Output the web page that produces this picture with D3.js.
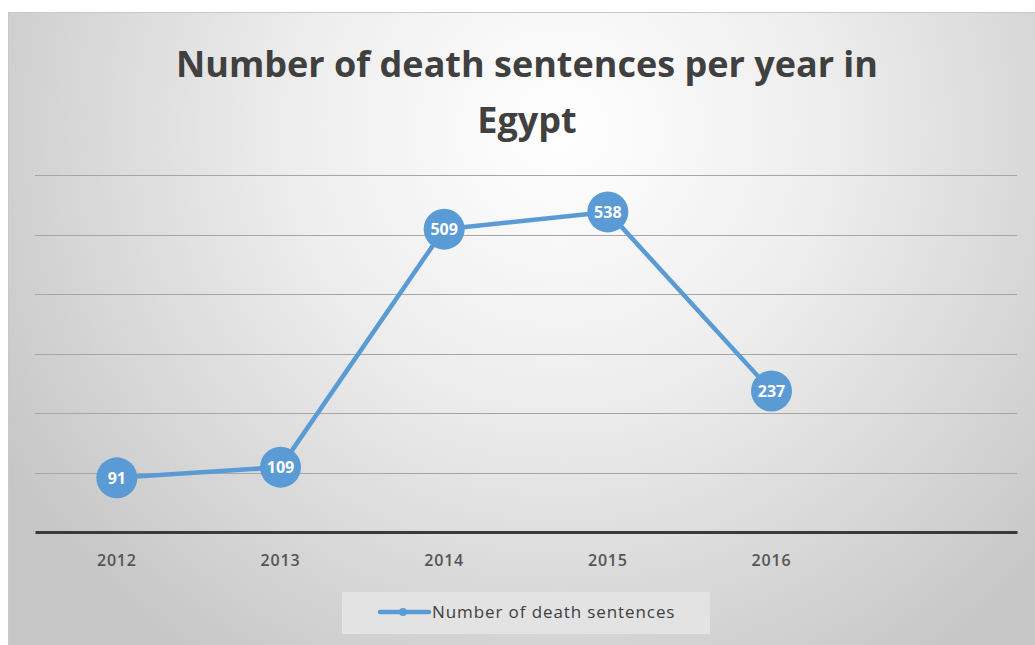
<!DOCTYPE html>
<html>
<head>
<meta charset="utf-8">
<script src="https://cdn.jsdelivr.net/npm/d3@7"></script>
<style>
  body { margin: 0; background: #fff; }
  svg { display: block; }
</style>
</head>
<body>
<svg id="chart" width="1035" height="645"></svg>
<script>
const years = ["2012", "2013", "2014", "2015", "2016"];
const sentences = [91, 109, 509, 538, 237];
const yTicks = [0, 100, 200, 300, 400, 500, 600];
const titleLines = ["Number of death sentences per year in", "Egypt"];
const seriesName = "Number of death sentences";

const svg = d3.select("#chart");
const blue = "#5b9bd5";

// background gradient
const defs = svg.append("defs");
const grad = defs.append("radialGradient")
  .attr("id", "bg")
  .attr("gradientUnits", "userSpaceOnUse")
  .attr("cx", 560).attr("cy", 130).attr("r", 650);
grad.append("stop").attr("offset", "0%").attr("stop-color", "#ffffff");
grad.append("stop").attr("offset", "40%").attr("stop-color", "#eeeeee");
grad.append("stop").attr("offset", "100%").attr("stop-color", "#c6c6c6");

svg.append("rect")
  .attr("x", 8.5).attr("y", 12.5)
  .attr("width", 1030).attr("height", 640)
  .attr("fill", "url(#bg)")
  .attr("stroke", "#c8c8c8");

// title
svg.append("text")
  .attr("x", 527).attr("y", 77)
  .attr("text-anchor", "middle")
  .attr("font-family", "Open Sans, sans-serif")
  .attr("font-weight", "bold")
  .attr("font-size", 36)
  .attr("fill", "#404040")
  .selectAll("tspan")
  .data(titleLines)
  .join("tspan")
  .attr("x", 527)
  .attr("dy", (d, i) => i ? 56 : 0)
  .text(d => d);

const x = d3.scaleBand()
  .domain(years.concat([""]))
  .range([35, 1017]);

const y = d3.scaleLinear()
  .domain([0, 600])
  .range([532, 175]);

// gridlines
svg.append("g")
  .selectAll("line")
  .data(yTicks.slice(1))
  .join("line")
  .attr("x1", 35).attr("x2", 1017)
  .attr("y1", d => Math.round(y(d)) + 0.5)
  .attr("y2", d => Math.round(y(d)) + 0.5)
  .attr("stroke", "#a6a6a6")
  .attr("stroke-width", 1);

// x axis
const xAxis = svg.append("g")
  .attr("transform", `translate(0,${y(0)})`)
  .call(d3.axisBottom(x).tickSize(0).tickPadding(23).tickFormat(d => d));
xAxis.select(".domain")
  .attr("stroke", "#3a3a3a")
  .attr("stroke-width", 3);
xAxis.selectAll("text")
  .attr("font-family", "Open Sans, sans-serif")
  .attr("font-size", 16)
  .attr("font-weight", 600)
  .attr("letter-spacing", 0.8)
  .attr("fill", "#555555");

const cx = d => x(d) + x.bandwidth() / 2;

// line
const line = d3.line()
  .x((d, i) => cx(years[i]))
  .y(d => y(d));

svg.append("path")
  .datum(sentences)
  .attr("d", line)
  .attr("fill", "none")
  .attr("stroke", blue)
  .attr("stroke-width", 4.5)
  .attr("stroke-linejoin", "round");

// markers with labels
const pts = svg.append("g")
  .selectAll("g")
  .data(sentences)
  .join("g")
  .attr("transform", (d, i) => `translate(${cx(years[i])},${y(d)})`);

pts.append("circle")
  .attr("r", 20.5)
  .attr("fill", blue);

pts.append("text")
  .attr("text-anchor", "middle")
  .attr("dy", "0.36em")
  .attr("font-family", "Open Sans, sans-serif")
  .attr("font-weight", "bold")
  .attr("font-size", 16)
  .attr("fill", "#ffffff")
  .text(d => d);

// legend
const leg = svg.append("g");
leg.append("rect")
  .attr("x", 342).attr("y", 592)
  .attr("width", 368).attr("height", 42)
  .attr("fill", "#e3e3e3");
leg.append("line")
  .attr("x1", 380).attr("x2", 429)
  .attr("y1", 612).attr("y2", 612)
  .attr("stroke", blue)
  .attr("stroke-width", 4.5)
  .attr("stroke-linecap", "round");
leg.append("circle")
  .attr("cx", 403).attr("cy", 612).attr("r", 4)
  .attr("fill", blue);
leg.append("text")
  .attr("x", 432).attr("y", 612)
  .attr("dy", "0.35em")
  .attr("font-family", "Open Sans, sans-serif")
  .attr("font-size", 17)
  .attr("letter-spacing", 0.9)
  .attr("fill", "#404040")
  .text(seriesName);
</script>
</body>
</html>
